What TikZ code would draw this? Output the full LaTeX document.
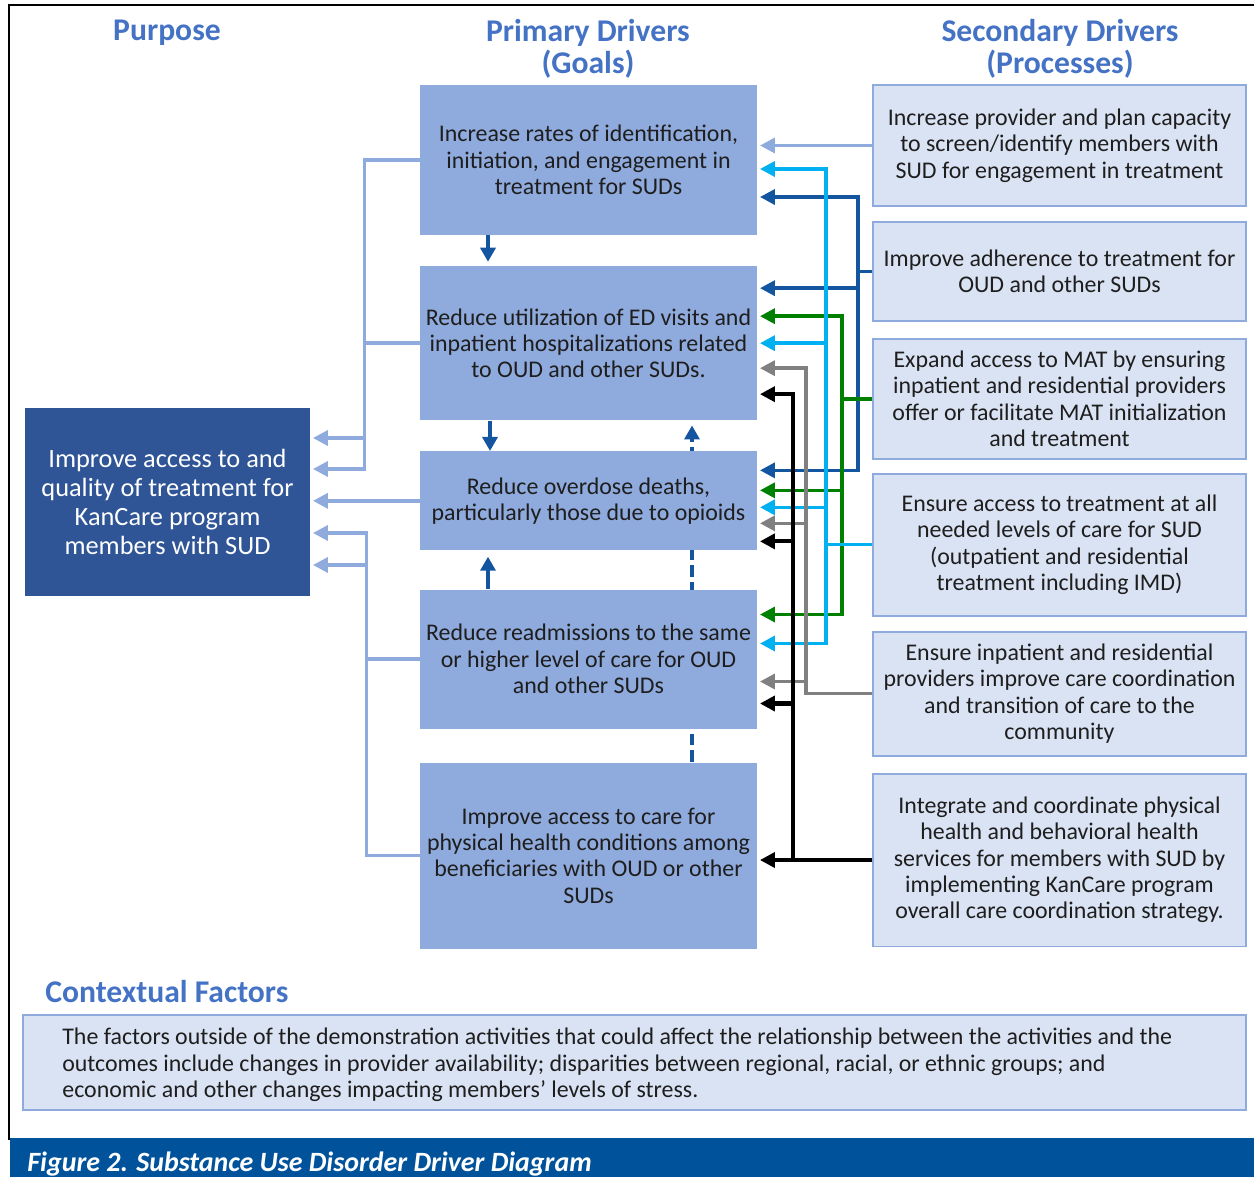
\documentclass[tikz,border=0pt]{standalone}
\usepackage{fontspec}
\setmainfont{Carlito}
\usetikzlibrary{arrows.meta,positioning,calc,backgrounds}
\usepackage{xcolor}

\definecolor{hdrblue}{RGB}{68,114,196}
\definecolor{goalfill}{RGB}{143,170,220}
\definecolor{procfill}{RGB}{218,227,243}
\definecolor{purpfill}{RGB}{47,85,151}
\definecolor{bandblue}{RGB}{0,82,155}
\definecolor{txtdark}{RGB}{30,30,30}
\definecolor{darkarrow}{RGB}{20,85,160}
\definecolor{cyanarrow}{RGB}{0,176,240}
\definecolor{greenarrow}{RGB}{0,128,0}
\definecolor{grayarrow}{RGB}{128,128,128}
\newcommand{\px}{0.02cm}
\newcommand{\drvbody}{\fontsize{13.6}{15}\selectfont}
\newcommand{\drvhead}{\fontsize{18}{18.1}\selectfont\bfseries}

\begin{document}
\begin{tikzpicture}[x=\px,y=-\px,
				goal/.style={fill=goalfill,minimum width=6.74cm,align=center,inner sep=2pt,font=\drvbody,text=txtdark},
				proc/.style={fill=procfill,draw=goalfill,line width=1.1pt,minimum width=7.46cm,align=center,inner sep=2pt,font=\drvbody,text=txtdark},
				purp/.style={fill=purpfill,minimum width=5.7cm,minimum height=3.76cm,align=center,text=white,font=\fontsize{15}{16.4}\selectfont},
				head/.style={font=\drvhead,text=hdrblue,align=center,inner sep=0pt},
				link/.style={line width=2pt,-{Triangle[length=8.5pt,width=8.5pt]},shorten >=1.5pt},
				vlink/.style={line width=2pt,darkarrow,-{Triangle[length=8pt,width=8.5pt]}}
				]
				\useasboundingbox (0,0) rectangle (1254,1177);
				
				% Frame and caption band
				\draw[line width=1.7pt] (9,1140) -- (9,5) -- (1254,5);
				\fill[bandblue] (10,1138) rectangle (1254,1177);
				\node[anchor=west,inner sep=0pt,text=white,font=\fontsize{15.9}{17}\selectfont\bfseries\itshape] (caption) at (27,1164) {Figure 2. Substance Use Disorder Driver Diagram};
				
				% Headings
				\node[head] (hpurp) at (167,33) {Purpose};
				\node[head] (hprim) at (588,49) {Primary Drivers\\(Goals)};
				\node[head] (hsec) at (1060,49) {Secondary Drivers\\(Processes)};
				
				% Purpose
				\node[purp] (purpose) at (167.5,502) {Improve access to and\\quality of treatment for\\KanCare program\\members with SUD};
				
				% Primary drivers
				\node[goal,minimum height=3cm] (p1) at (588.5,160) {Increase rates of identification,\\initiation, and engagement in\\treatment for SUDs};
				\node[goal,minimum height=3.08cm,below=0.61cm of p1] (p2) {Reduce utilization of ED visits and\\inpatient hospitalizations related\\to OUD and other SUDs.};
				\node[goal,minimum height=1.98cm,below=0.61cm of p2] (p3) {Reduce overdose deaths,\\particularly those due to opioids};
				\node[goal,minimum height=2.78cm,below=0.77cm of p3] (p4) {Reduce readmissions to the same\\or higher level of care for OUD\\and other SUDs};
				\node[goal,minimum height=3.72cm,below=0.67cm of p4] (p5) {Improve access to care for\\physical health conditions among\\beneficiaries with OUD or other\\SUDs};
				
				% Secondary drivers
				\node[proc,minimum height=2.42cm] (s1) at (1059.5,145.5) {Increase provider and plan capacity\\to screen/identify members with\\SUD for engagement in treatment};
				\node[proc,minimum height=1.98cm,below=0.28cm of s1] (s2) {Improve adherence to treatment for\\OUD and other SUDs};
				\node[proc,minimum height=2.40cm,below=0.32cm of s2] (s3) {Expand access to MAT by ensuring\\inpatient and residential providers\\offer or facilitate MAT initialization\\and treatment};
				\node[proc,minimum height=2.84cm,below=0.26cm of s3] (s4) {Ensure access to treatment at all\\needed levels of care for SUD\\(outpatient and residential\\treatment including IMD)};
				\node[proc,minimum height=2.48cm,below=0.28cm of s4] (s5) {Ensure inpatient and residential\\providers improve care coordination\\and transition of care to the\\community};
				\node[proc,minimum height=3.46cm,below=0.32cm of s5] (s6) {Integrate and coordinate physical\\health and behavioral health\\services for members with SUD by\\implementing KanCare program\\overall care coordination strategy.};
				
				% Contextual factors
				\node[head,anchor=west] (hctx) at (45,992) {Contextual Factors};
				\node[proc,minimum width=24.46cm,minimum height=1.9cm] (ctx) at (634.5,1062.5) {};
				\node[anchor=west,inner sep=0pt,align=left,font=\fontsize{13.6}{15.2}\selectfont,text=txtdark] (ctxtext) at (62,1065) {The factors outside of the demonstration activities that could affect the relationship between the activities and the\\outcomes include changes in provider availability; disparities between regional, racial, or ethnic groups; and\\economic and other changes impacting members’ levels of stress.};
				
				% Goals to purpose
				\draw[link,goalfill] (p1.west) -- ++(-55,0) |- ($(purpose.east)+(0,-64)$);
				\draw[link,goalfill] (p2.west) -- ++(-55,0) |- ($(purpose.east)+(0,-33)$);
				\draw[link,goalfill] (p3.west) -- (p3.west -| purpose.east);
				\draw[link,goalfill] (p4.west) -- ++(-53,0) |- ($(purpose.east)+(0,31)$);
				\draw[link,goalfill] (p5.west) -- ++(-53,0) |- ($(purpose.east)+(0,63)$);
				
				% Between goals
				\draw[vlink,shorten >=2.3pt] ($(p1.south)+(-100.5,0)$) -- ($(p2.north)+(-100.5,0)$);
				\draw[vlink] ($(p2.south)+(-98.5,0)$) -- ($(p3.north)+(-98.5,0)$);
				\draw[vlink,shorten >=3.4pt] ($(p4.north)+(-100.5,0)$) -- ($(p3.south)+(-100.5,0)$);
				\begin{scope}[on background layer]
				\draw[vlink,dash pattern=on 6.8pt off 2.8pt,shorten >=2.8pt] ($(p5.north)+(103.5,0)$) -- ($(p2.south)+(103.5,0)$);
				\end{scope}
				
				% Processes to goals
				\draw[link,goalfill] (s1.west) -- (s1.west -| p1.east);
				
				\draw[link,darkarrow] (s2.west) -- ++(-14,0) |- ($(p1.east)+(0,37)$);
				\draw[link,darkarrow] (s2.west) -- ++(-14,0) |- ($(p2.east)+(0,-55)$);
				\draw[link,darkarrow] (s2.west) -- ++(-14,0) |- ($(p3.east)+(0,-30.5)$);
				
				\draw[link,greenarrow] (s3.west) -- ++(-30,0) |- ($(p2.east)+(0,-27)$);
				\draw[link,greenarrow] (s3.west) -- ++(-30,0) |- ($(p3.east)+(0,-10.5)$);
				\draw[link,greenarrow] (s3.west) -- ++(-30,0) |- ($(p4.east)+(0,-44.5)$);
				
				\draw[link,cyanarrow] (s4.west) -- ++(-46,0) |- ($(p1.east)+(0,9)$);
				\draw[link,cyanarrow] (s4.west) -- ++(-46,0) |- ($(p2.east)+(0,0)$);
				\draw[link,cyanarrow] (s4.west) -- ++(-46,0) |- ($(p3.east)+(0,6.5)$);
				\draw[link,cyanarrow] (s4.west) -- ++(-46,0) |- ($(p4.east)+(0,-15.5)$);
				
				\draw[link,grayarrow] (s5.west) -- ++(-66,0) |- ($(p2.east)+(0,25)$);
				\draw[link,grayarrow] (s5.west) -- ++(-66,0) |- ($(p3.east)+(0,22.5)$);
				\draw[link,grayarrow] (s5.west) -- ++(-66,0) |- ($(p4.east)+(0,22.5)$);
				
				\draw[link,black,line width=2.4pt] (s6.west) -- ++(-79,0) |- ($(p2.east)+(0,51)$);
				\draw[link,black,line width=2.4pt] (s6.west) -- ++(-79,0) |- ($(p3.east)+(0,40.5)$);
				\draw[link,black,line width=2.4pt] (s6.west) -- ++(-79,0) |- ($(p4.east)+(0,44.5)$);
				\draw[link,black,line width=2.4pt] (s6.west) -- (s6.west -| p5.east);
				
			\end{tikzpicture}
\end{document}
